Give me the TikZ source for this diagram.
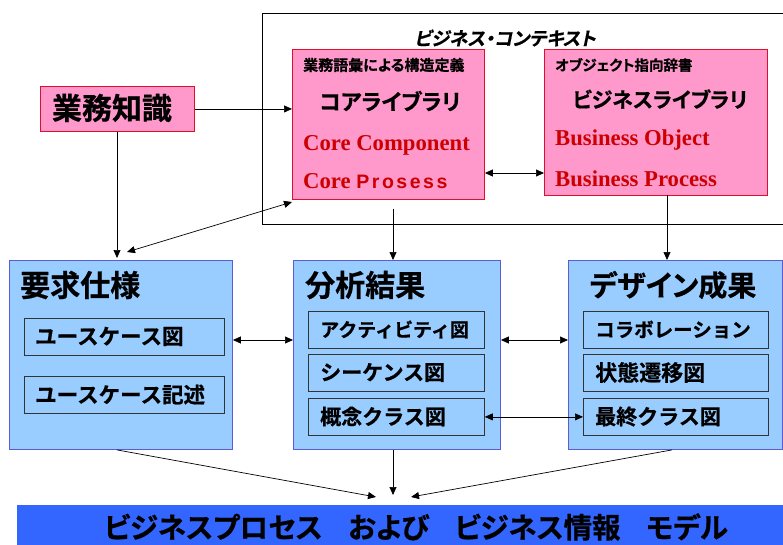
\documentclass[tikz,border=0pt]{standalone}
\usepackage{fontspec}
\usetikzlibrary{arrows.meta,calc}
\setmainfont{Liberation Serif}
\newfontfamily\jp{Noto Sans CJK JP Bold}[RawFeature=+palt,FakeBold=0.6]
\newfontfamily\jpm{Noto Sans CJK JP Bold}[FakeBold=0.6]
\newfontfamily\jpit{Noto Sans CJK JP Bold}[RawFeature=+palt,FakeSlant=0.2,FakeBold=0.6]
\newfontfamily\sfb{Liberation Sans}[LetterSpace=13]
\definecolor{pinkfill}{HTML}{FF99CC}
\definecolor{pinkline}{HTML}{E0102A}
\definecolor{bluefill}{HTML}{99CCFF}
\definecolor{blueline}{HTML}{5B5BD6}
\definecolor{barblue}{HTML}{3366FF}
\definecolor{darkred}{HTML}{CC0000}
\tikzset{
  x=1pt,y=-1pt,
  pinkbox/.style={draw=pinkline,fill=pinkfill,line width=0.9pt,anchor=north west,inner sep=0pt},
  bluebox/.style={draw=blueline,fill=bluefill,line width=0.9pt,anchor=north west,inner sep=0pt},
  innerbox/.style={draw=black!80,fill=bluefill,line width=0.8pt,anchor=north west,inner sep=0pt},
  txt/.style={inner sep=0pt},
  conn/.style={line width=0.7pt,-{Triangle[length=8pt,width=7pt]}},
  dconn/.style={line width=0.7pt,{Triangle[length=8pt,width=7pt]}-{Triangle[length=8pt,width=7pt]}},
  redtxt/.style={txt,anchor=base west,text=darkred,font=\fontsize{22.7}{22.7}\selectfont\bfseries},
  intxt/.style={txt,anchor=west,font=\jpm\fontsize{21}{21}\selectfont},
}
\begin{document}
\begin{tikzpicture}
\useasboundingbox (0,0) rectangle (783,545);
\clip (0,0) rectangle (783,545);
% business context frame
\draw[line width=0.8pt] (790,13) -- (262,13) -- (262,224) -- (790,224);
\node[txt,font=\jpit\fontsize{18.5}{18.5}\selectfont] (ctxt) at (505,38) {ビジネス・コンテキスト};
% core library
\node[pinkbox,minimum width=192pt,minimum height=150pt] (core) at (292,49) {};
\node[txt,anchor=west,font=\jp\fontsize{15}{15}\selectfont] (coresub) at (303,65) {業務語彙による構造定義};
\node[txt,font=\jp\fontsize{22}{22}\selectfont] (coretit) at (390,101) {コアライブラリ};
\node[redtxt] (cc) at (303,151) {Core Component};
\node[redtxt] (cp) at (303,189) {Core {\sfb\fontsize{19.5}{19.5}\selectfont\bfseries Prosess}};
% business library
\node[pinkbox,minimum width=223pt,minimum height=146pt] (biz) at (544,49) {};
\node[txt,anchor=west,font=\jp\fontsize{14.5}{14.5}\selectfont] (bizsub) at (555,65) {オブジェクト指向辞書};
\node[txt,font=\jp\fontsize{21}{21}\selectfont] (biztit) at (660,99) {ビジネスライブラリ};
\node[redtxt] (bo) at (555,146) {Business Object};
\node[redtxt] (bp) at (555,186) {Business Process};
% gyomu chishiki
\node[pinkbox,minimum width=154pt,minimum height=45pt] (gyomu) at (40,86) {};
\node[txt,font=\jp\fontsize{30}{30}\selectfont] (gyomut) at (112,108) {業務知識};
% blue boxes
\node[bluebox,minimum width=223pt,minimum height=189pt] (req) at (9,260) {};
\node[txt,anchor=west,font=\jp\fontsize{30}{30}\selectfont] (reqt) at (20,285) {要求仕様};
\node[innerbox,minimum width=200pt,minimum height=37pt] (uc1) at (24,318) {};
\node[intxt,font=\jpm\fontsize{21.5}{21.5}\selectfont] (uc1t) at (35,336.5) {ユースケース図};
\node[innerbox,minimum width=200pt,minimum height=37pt] (uc2) at (24,376) {};
\node[intxt,font=\jpm\fontsize{21.5}{21.5}\selectfont] (uc2t) at (35,394.5) {ユースケース記述};

\node[bluebox,minimum width=207pt,minimum height=189pt] (ana) at (293,260) {};
\node[txt,anchor=west,font=\jp\fontsize{30}{30}\selectfont] (anat) at (305,285) {分析結果};
\node[innerbox,minimum width=176pt,minimum height=37pt] (a1) at (308,311) {};
\node[intxt,font=\jpm\fontsize{19}{19}\selectfont] (a1t) at (320,329.5) {アクティビティ図};
\node[innerbox,minimum width=176pt,minimum height=37pt] (a2) at (308,354) {};
\node[intxt] (a2t) at (320,372.5) {シーケンス図};
\node[innerbox,minimum width=176pt,minimum height=37pt] (a3) at (308,398) {};
\node[intxt] (a3t) at (320,416.5) {概念クラス図};

\node[bluebox,minimum width=214pt,minimum height=189pt] (des) at (568,260) {};
\node[txt,font=\jp\fontsize{29}{29}\selectfont] (dest) at (673,285) {デザイン成果};
\node[innerbox,minimum width=185pt,minimum height=37pt] (d1) at (583,311) {};
\node[intxt,font=\jpm\fontsize{19.5}{19.5}\selectfont] (d1t) at (595,329.5) {コラボレーション};
\node[innerbox,minimum width=185pt,minimum height=37pt] (d2) at (583,354) {};
\node[intxt,font=\jpm\fontsize{22}{22}\selectfont] (d2t) at (595,372.5) {状態遷移図};
\node[innerbox,minimum width=185pt,minimum height=37pt] (d3) at (583,398) {};
\node[intxt] (d3t) at (595,416.5) {最終クラス図};
% bottom bar
\node[anchor=north west,fill=barblue,minimum width=780pt,minimum height=45pt,inner sep=0pt] (bar) at (17,505) {};
\node[txt,font=\jp\fontsize{28.5}{28.5}\selectfont] (bart) at (416,527) {ビジネスプロセス\hspace{0.9em}および\hspace{0.9em}ビジネス情報\hspace{0.9em}モデル};
% coordinates
\coordinate (g2req) at (117,258);
\coordinate (reqtip) at (127,252);
\coordinate (coretip) at (292,202);
\coordinate (cs) at (393,209);
\coordinate (bs) at (667,195);
\coordinate (t1) at (376,497);
\coordinate (t2) at (393,495);
\coordinate (t3) at (411,497);
% connectors
\draw[conn] (gyomu.east) -- (gyomu.east -| core.west);
\draw[conn] (gyomu.south -| g2req) -- (g2req);
\draw[dconn] (reqtip) -- (coretip);
\draw[dconn] (core.east |- 0,173) -- (biz.west |- 0,173);
\draw[conn] (cs) -- (cs |- ana.north);
\draw[conn] (bs) -- (bs |- des.north);
\draw[dconn] (req.east |- 0,340) -- (ana.west |- 0,340);
\draw[dconn] (ana.east |- 0,340) -- (des.west |- 0,340);
\draw[dconn] (a3.east) -- (d3.west);
\draw[conn] (req.south -| 117,0) -- (t1);
\draw[conn] (ana.south -| cs) -- (t2);
\draw[conn] (des.south -| 672,0) -- (t3);
\end{tikzpicture}
\end{document}
